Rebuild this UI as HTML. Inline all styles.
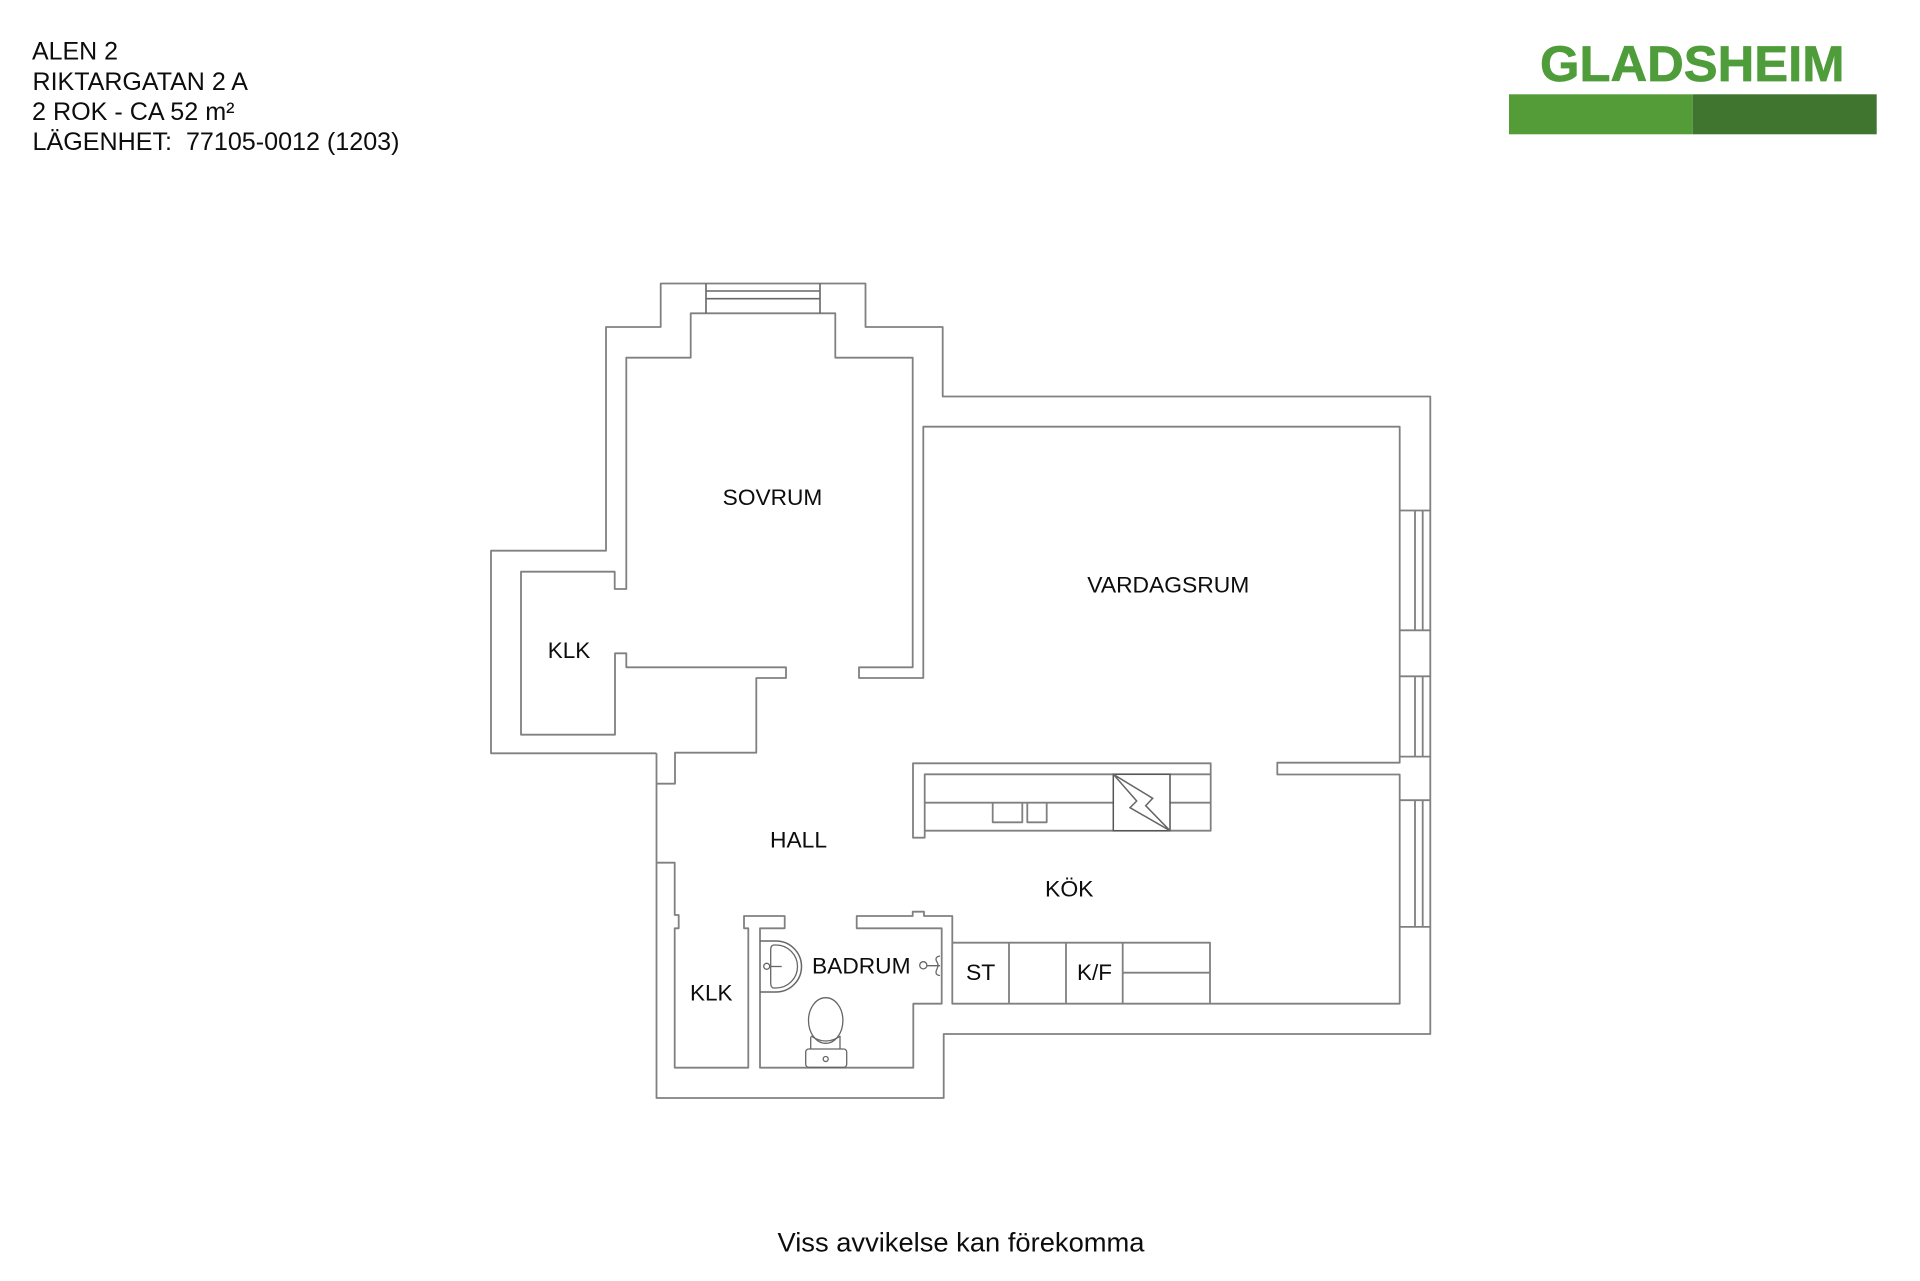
<!DOCTYPE html>
<html lang="sv">
<head>
<meta charset="utf-8">
<title>Gladsheim – Riktargatan 2 A</title>
<style>
html,body{margin:0;padding:0;background:#fff;width:1920px;height:1281px;overflow:hidden}
svg{display:block;position:absolute;left:0;top:0}
text{font-family:"Liberation Sans",Arial,sans-serif;fill:#0d0d0d}
.w{fill:none;stroke:#808080;stroke-width:1.8;stroke-linejoin:round}
.d{fill:none;stroke:#666;stroke-width:1.6}
.f{fill:none;stroke:#666;stroke-width:1.3}
.l{font-size:22.4px}
.h{font-size:24.7px}
</style>
</head>
<body>
<svg width="1920" height="1281" viewBox="0 0 1920 1281" xmlns="http://www.w3.org/2000/svg">
<rect width="1920" height="1281" fill="#fff"/>

<!-- header -->
<text class="h" x="32" y="59.3" textLength="86" lengthAdjust="spacingAndGlyphs">ALEN 2</text>
<text class="h" x="32.5" y="90" textLength="215.5" lengthAdjust="spacingAndGlyphs">RIKTARGATAN 2 A</text>
<text class="h" x="32" y="120" textLength="202.5" lengthAdjust="spacingAndGlyphs">2 ROK - CA 52 m²</text>
<text class="h" x="32.5" y="150" textLength="367" lengthAdjust="spacingAndGlyphs" xml:space="preserve">LÄGENHET:  77105-0012 (1203)</text>

<!-- logo -->
<text x="1540" y="81" font-size="50.5" font-weight="700" textLength="304.5" lengthAdjust="spacingAndGlyphs" style="fill:#4f9c3a;stroke:#4f9c3a;stroke-width:.7">GLADSHEIM</text>
<rect x="1509" y="94.3" width="183.7" height="40" fill="#539c38"/>
<rect x="1692.7" y="94.3" width="184" height="40" fill="#40752f"/>

<!-- outer wall -->
<path class="w" d="M656.5 753.3H491V550.7H606V327H660.7V283.5H865.5V327H942.7V396.5H1430.3V1034H943.7V1098H656.5V753.3"/>
<!-- bedroom / klk / hall inner -->
<path class="w" d="M706 313.3H690.7V357.7H626.3V589H614.7V571.7H521V734.7H615V653.3H626.3V667.3H786V678H756.3V752.7H675V783.7H656.7"/>
<path class="w" d="M706 313.3H835.3V357.7H912.7V667.3H859V678H923.3V426.7H1399.7V762.7H1277.3V774.5H1399.7V1003.7H952.3V916H924V911.7H912.7V916H856.7V928.3H941.7V1003.7H913.3V1067.7H760V928.3H784.7V916H744V928.3H748.3V1067.7H674.7V928.3H678.7V915H674.7V862.7H656.7"/>
<!-- bedroom window -->
<path class="d" d="M706 283.5V313.3M820 283.5V313.3M706 291H820M706 298.7H820"/>
<!-- right windows -->
<path class="w" d="M1399.7 510.5H1430.3M1399.7 630.3H1430.3M1399.7 676.3H1430.3M1399.7 756.6H1430.3M1399.7 800.2H1430.3M1399.7 926.9H1430.3"/>
<path class="w" d="M1415 510.5V630.3M1422.7 510.5V630.3M1415 676.3V756.6M1422.7 676.3V756.6M1415 800.2V926.9M1422.7 800.2V926.9"/>
<!-- kitchen lower cabinets -->
<path class="w" d="M952.3 942.7H1210V1003.7M1009 942.7V1003.7M1066 942.7V1003.7M1122.7 942.7V1003.7M1122.7 972.7H1210"/>
<!-- kitchen island -->
<path class="w" d="M924.7 830.7V837.7H913V763.3H1210.7V830.7H924.7V774.3H1210.7M924.7 802.7H1113.3M1170 802.7H1210.7"/>
<path class="w" d="M992.7 802.7V822.3H1022.3V802.7M1027.3 802.7V822.3H1046.7V802.7"/>
<rect x="1113.3" y="774.3" width="56.7" height="56.4" fill="#fff" stroke="#555" stroke-width="1.5"/>
<path fill="none" stroke="#666" stroke-width="1.5" d="M1113.3 774.3L1152.7 798.3L1145.7 805.7L1170 830.7L1130 807.7L1136.7 801Z"/>

<!-- basin -->
<path class="f" style="stroke-width:1.5" d="M760 941H776A25.5 25.5 0 0 1 776 992H760"/>
<path class="f" d="M770.7 950Q770.7 945 774 945H776A21.5 21.5 0 0 1 776 988H774Q770.7 988 770.7 983Z"/>
<circle class="f" cx="766.7" cy="966.3" r="3"/>
<path class="f" d="M769.7 966.5H781.7"/>
<!-- toilet -->
<ellipse class="f" cx="825.7" cy="1020.5" rx="17.2" ry="22.8"/>
<path class="f" d="M810.7 1036.7V1049M840 1036.7V1049M811 1036Q825.7 1046 840.5 1036"/>
<rect x="805.7" y="1049" width="41" height="18.3" rx="3" fill="#fff" stroke="#666" stroke-width="1.3"/>
<circle class="f" cx="825.7" cy="1059" r="2.5"/>
<!-- shower -->
<circle class="f" cx="923.3" cy="965.3" r="3.6"/>
<path class="f" d="M927 965.7H940M940 956Q934 957 937 962Q939 965 937 969Q934 975 940 975.5"/>

<!-- room labels -->
<text class="l" x="722.7" y="505" textLength="99.6" lengthAdjust="spacingAndGlyphs">SOVRUM</text>
<text class="l" x="1087.3" y="592.7" textLength="162" lengthAdjust="spacingAndGlyphs">VARDAGSRUM</text>
<text class="l" x="547.8" y="658" textLength="42.5" lengthAdjust="spacingAndGlyphs">KLK</text>
<text class="l" x="770" y="847.7" textLength="57" lengthAdjust="spacingAndGlyphs">HALL</text>
<text class="l" x="1045" y="896.7" textLength="48.5" lengthAdjust="spacingAndGlyphs">KÖK</text>
<text class="l" x="812" y="973.3" textLength="98.5" lengthAdjust="spacingAndGlyphs">BADRUM</text>
<text class="l" x="690" y="1000.7" textLength="42.5" lengthAdjust="spacingAndGlyphs">KLK</text>
<text class="l" x="966" y="980" textLength="29.3" lengthAdjust="spacingAndGlyphs">ST</text>
<text class="l" x="1077" y="980" textLength="35" lengthAdjust="spacingAndGlyphs">K/F</text>

<!-- footer -->
<text x="777.5" y="1251.7" font-size="26.5" textLength="367" lengthAdjust="spacingAndGlyphs">Viss avvikelse kan förekomma</text>
</svg>
</body>
</html>
